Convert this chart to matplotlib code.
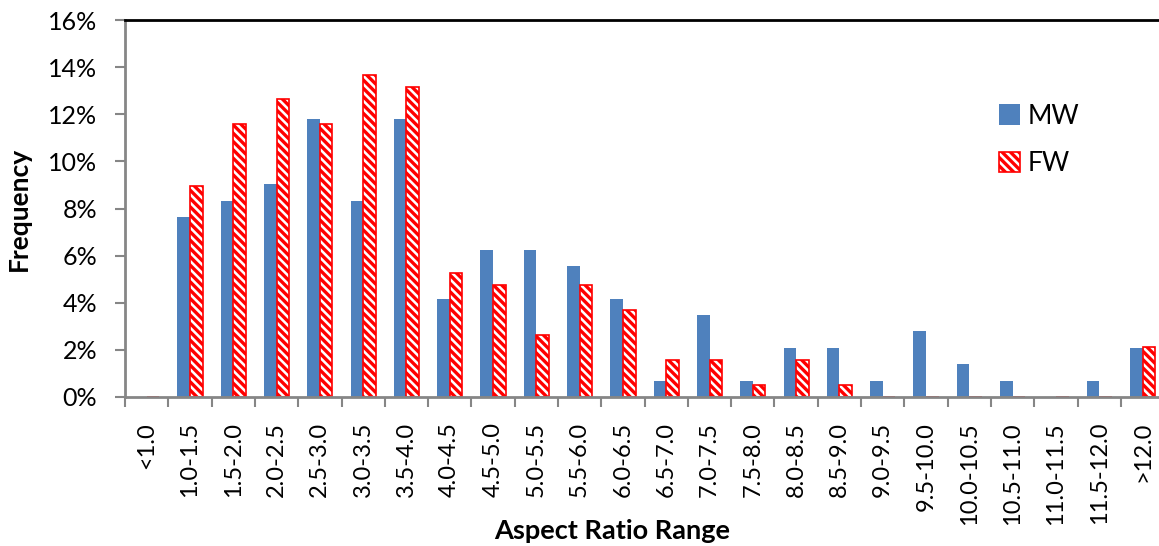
import matplotlib
matplotlib.use("Agg")
import matplotlib.pyplot as plt
import numpy as np
from matplotlib.ticker import PercentFormatter, FixedLocator

categories = ["<1.0", "1.0-1.5", "1.5-2.0", "2.0-2.5", "2.5-3.0", "3.0-3.5",
              "3.5-4.0", "4.0-4.5", "4.5-5.0", "5.0-5.5", "5.5-6.0", "6.0-6.5",
              "6.5-7.0", "7.0-7.5", "7.5-8.0", "8.0-8.5", "8.5-9.0", "9.0-9.5",
              "9.5-10.0", "10.0-10.5", "10.5-11.0", "11.0-11.5", "11.5-12.0",
              ">12.0"]

# frequency in percent
mw = [0.0, 7.64, 8.33, 9.03, 11.81, 8.33, 11.81, 4.17, 6.25, 6.25, 5.56, 4.17,
      0.69, 3.47, 0.69, 2.08, 2.08, 0.69, 2.78, 1.39, 0.69, 0.0, 0.69, 2.08]
fw = [0.0, 8.95, 11.58, 12.63, 11.58, 13.68, 13.16, 5.26, 4.74, 2.63, 4.74, 3.68,
      1.58, 1.58, 0.53, 1.58, 0.53, 0.0, 0.0, 0.0, 0.0, 0.0, 0.0, 2.11]

plt.rcParams["font.family"] = ["Lato", "DejaVu Sans"]
plt.rcParams["hatch.linewidth"] = 2.4

n = len(categories)
x = np.arange(n)
w = 0.29

fig = plt.figure(figsize=(11.59, 5.46), dpi=100)
ax = fig.add_axes([125 / 1159, 1 - 397 / 546, n * 43.3 / 1159, 377 / 546])

ax.bar(x - w / 2, mw, w, color="#4F81BD", label="MW")
ax.bar(x + w / 2, fw, w, facecolor="white", edgecolor="#FF0000",
       linewidth=1.2, hatch="\\\\\\\\", label="FW")

ax.set_xlim(-0.5, n - 0.5)
ax.set_ylim(0, 16)
ax.yaxis.set_major_locator(FixedLocator(np.arange(0, 17, 2)))
ax.yaxis.set_major_formatter(PercentFormatter(decimals=0))

ax.set_xticks(x)
ax.set_xticklabels(categories, rotation=90, fontsize=17)
ax.set_xticks(np.arange(n + 1) - 0.5, minor=True)
ax.tick_params(axis="x", which="major", length=0, pad=18)
ax.tick_params(axis="x", which="minor", length=7, width=1.5, color="#868686",
               direction="out")
ax.tick_params(axis="y", length=7, width=1.5, color="#868686", labelsize=18,
               pad=13)

for side in ["left", "bottom"]:
    ax.spines[side].set_color("#868686")
    ax.spines[side].set_linewidth(2)
ax.spines["top"].set_color("black")
ax.spines["top"].set_linewidth(2)
ax.spines["right"].set_visible(False)

ax.set_ylabel("Frequency", fontsize=19, fontweight="bold", labelpad=12)
fig.text(612 / 1159, 1 - 531 / 546, "Aspect Ratio Range", fontsize=19.5,
         fontweight="bold", ha="center", va="center")

ax.legend(loc="upper left", bbox_to_anchor=(975 / 1159, 1 - 80 / 546),
          bbox_transform=fig.transFigure, frameon=False, fontsize=19,
          handlelength=0.8, handleheight=0.8, handletextpad=0.3,
          labelspacing=0.85)

fig.savefig("out.png", dpi=100)
plt.close(fig)
